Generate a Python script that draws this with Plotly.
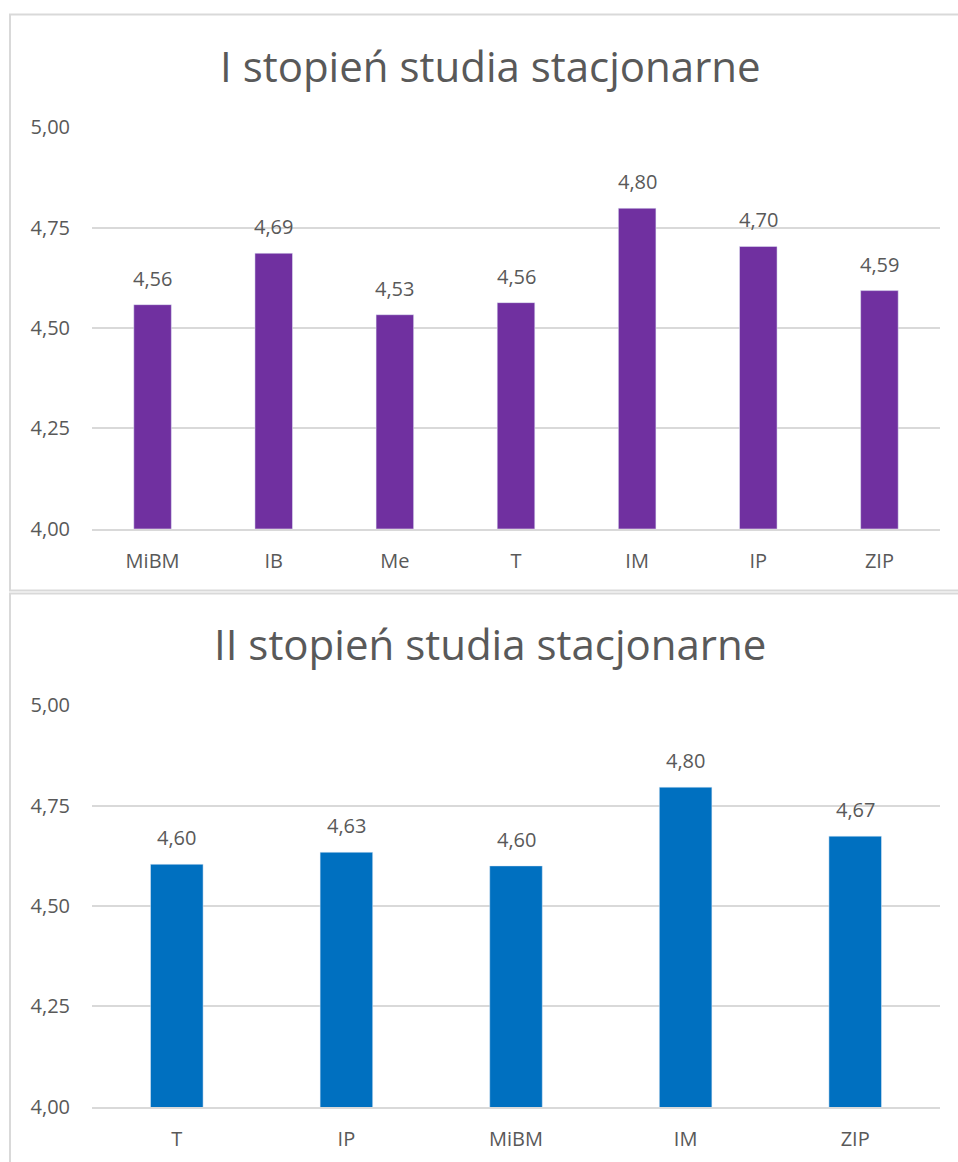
import plotly.graph_objects as go

# Top chart data
cats1 = ["MiBM", "IB", "Me", "T", "IM", "IP", "ZIP"]
vals1 = [4.558, 4.686, 4.533, 4.563, 4.798, 4.703, 4.593]
title1 = "I stopień studia stacjonarne"

# Bottom chart data
cats2 = ["T", "IP", "MiBM", "IM", "ZIP"]
vals2 = [4.604, 4.634, 4.600, 4.796, 4.674]
title2 = "II stopień studia stacjonarne"

yticks = [4.00, 4.25, 4.50, 4.75, 5.00]

W, H = 958, 1162
FONT = "Open Sans"
GREY = "#595959"
GRID = "#d9d9d9"

# vertical screen-pixel -> figure-pixel correction observed in the renderer
SCALE, OFF = 0.98, 12.5

def py(pix):
    return 1 - ((pix - OFF) / SCALE) / H

def px(pix):
    return pix / W

fig = go.Figure()
fig.add_trace(go.Bar(x=cats1, y=vals1, marker_color="#7030A0", width=0.31,
                     xaxis="x", yaxis="y", showlegend=False, hoverinfo="skip"))
fig.add_trace(go.Bar(x=cats2, y=vals2, marker_color="#0070C0", width=0.31,
                     xaxis="x2", yaxis="y2", showlegend=False, hoverinfo="skip"))

annotations = []
for c, v in zip(cats1, vals1):
    annotations.append(dict(x=c, y=v, xref="x", yref="y", text=f"{v:.2f}".replace(".", ","),
                            showarrow=False, yanchor="bottom", yshift=11,
                            font=dict(family=FONT, size=20, color=GREY)))
for c, v in zip(cats2, vals2):
    annotations.append(dict(x=c, y=v, xref="x2", yref="y2", text=f"{v:.2f}".replace(".", ","),
                            showarrow=False, yanchor="bottom", yshift=11,
                            font=dict(family=FONT, size=20, color=GREY)))
annotations.append(dict(x=px(490), y=py(64), xref="paper", yref="paper", text=title1,
                        showarrow=False, xanchor="center", yanchor="middle",
                        font=dict(family=FONT, size=42, color=GREY)))
annotations.append(dict(x=px(490), y=py(644), xref="paper", yref="paper", text=title2,
                        showarrow=False, xanchor="center", yanchor="middle",
                        font=dict(family=FONT, size=42, color=GREY)))

axis_y = dict(range=[4.0, 5.0], tickvals=yticks, tickformat=".2f", showgrid=True,
              gridcolor=GRID, gridwidth=1.5, zeroline=False, showline=False, fixedrange=True,
              ticklabelstandoff=21, tickfont=dict(family=FONT, size=20, color=GREY))
axis_x = dict(showgrid=False, showline=True, linecolor=GRID, linewidth=1.5, fixedrange=True,
              ticks="", ticklabelstandoff=13, tickfont=dict(family=FONT, size=20, color=GREY))

fig.update_layout(
    width=W, height=H,
    margin=dict(l=0, r=0, t=0, b=0),
    paper_bgcolor="white", plot_bgcolor="white",
    separators=", ",
    xaxis=dict(domain=[px(92), px(940)], anchor="y", **axis_x),
    yaxis=dict(domain=[py(529), py(126)], anchor="x", **axis_y),
    xaxis2=dict(domain=[max(0, px(92)), px(940)], anchor="y2", **axis_x),
    yaxis2=dict(domain=[max(0, py(1109)), py(706)], anchor="x2", **axis_y),
    annotations=annotations,
    shapes=[
        dict(type="rect", xref="paper", yref="paper", x0=px(10), x1=1.01, y0=py(591), y1=py(13),
             line=dict(color=GRID, width=2)),
        dict(type="rect", xref="paper", yref="paper", x0=px(10), x1=1.01, y0=-0.02, y1=py(594),
             line=dict(color=GRID, width=2)),
    ],
)

post = (
    "document.body.style.margin='0';document.body.style.overflow='hidden';"
)
fig.write_html("out.html", config={"displayModeBar": False}, post_script=post)
